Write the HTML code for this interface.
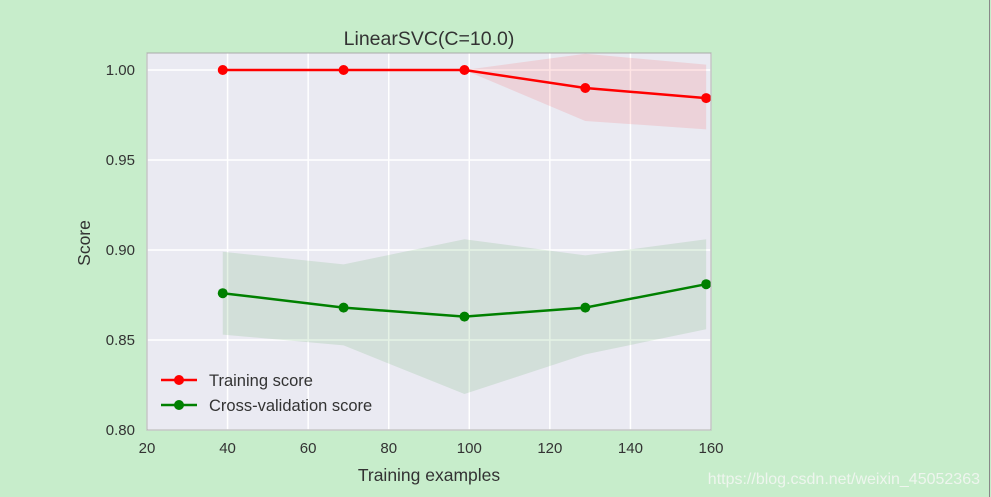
<!DOCTYPE html>
<html><head><meta charset="utf-8"><style>
html,body{margin:0;padding:0;background:#c7edcb;width:991px;height:497px;overflow:hidden;font-family:"Liberation Sans",sans-serif}
</style></head><body>
<svg id="chart" width="991" height="497" xmlns="http://www.w3.org/2000/svg" font-family="Liberation Sans, sans-serif">
<rect x="0" y="0" width="991" height="497" fill="#c7edcb"/>
<line x1="989.5" y1="0" x2="989.5" y2="497" stroke="#888" stroke-width="1"/>
<g id="plot"></g>
<text x="980" y="484" text-anchor="end" font-size="16" fill="#eef5ee">https://blog.csdn.net/weixin_45052363</text>
</svg>
<script>
const xs = [38.8, 68.8, 98.8, 128.8, 158.8];
const trainMean = [1.0, 1.0, 1.0, 0.990, 0.9844];
const trainUpper = [1.0, 1.0, 1.0, 1.009, 1.003];
const trainLower = [1.0, 1.0, 1.0, 0.9717, 0.967];
const cvMean = [0.876, 0.868, 0.863, 0.868, 0.881];
const cvUpper = [0.899, 0.892, 0.906, 0.897, 0.906];
const cvLower = [0.853, 0.847, 0.820, 0.842, 0.856];
const xTicks = [20, 40, 60, 80, 100, 120, 140, 160];
const yTicks = [0.80, 0.85, 0.90, 0.95, 1.00];

const L=147,R=711,T=53,B=430;
const X=v=>L+(v-20)/140*(R-L);
const Y=v=>B-(v-0.8)/0.2*(430-70);
const NS="http://www.w3.org/2000/svg";
const g=document.getElementById('plot');
function mk(tag,attrs,parent){const e=document.createElementNS(NS,tag);for(const k in attrs)e.setAttribute(k,attrs[k]);(parent||g).appendChild(e);return e;}

const bg=mk('rect',{x:L,y:T,width:R-L,height:B-T,fill:'#eaeaf2'});



xTicks.forEach(t=>{
  const l=mk('line',{x1:X(t),x2:X(t),y1:T,y2:B,stroke:'#fff','stroke-width':1.5});
  
  
  const tx=mk('text',{x:X(t),y:B+23,'text-anchor':'middle','font-size':15,fill:'#333'});
  tx.textContent=t;
  
  
});
yTicks.forEach(t=>{
  const l=mk('line',{x1:L,x2:R,y1:Y(t),y2:Y(t),stroke:'#fff','stroke-width':1.5});
  
  
  const tx=mk('text',{x:L-12,y:Y(t)+5,'text-anchor':'end','font-size':15,fill:'#333'});
  tx.textContent=t.toFixed(2);
  
  
});

function band(up,lo,color,name){
  let d='M'+xs.map((x,i)=>X(x)+','+Y(up[i])).join(' L');
  d+=' L'+xs.map((x,i)=>X(x)+','+Y(lo[i])).reverse().join(' L')+' Z';
  const p=mk('path',{d:d,fill:color,'fill-opacity':0.1});
  
  
}
band(trainUpper,trainLower,'#ff0000','training-band');
band(cvUpper,cvLower,'#008000','cv-band');

function series(vals,color,name){
  const pl=mk('polyline',{points:xs.map((x,i)=>X(x)+','+Y(vals[i])).join(' '),fill:'none',stroke:color,'stroke-width':2.5});
  
  
  xs.forEach((x,i)=>{
    const c=mk('circle',{cx:X(x),cy:Y(vals[i]),r:5,fill:color});
    
    
  });
}
series(trainMean,'#ff0000','training-score');
series(cvMean,'#008000','cv-score');

const frame=mk('rect',{x:L,y:T,width:R-L,height:B-T,fill:'none',stroke:'#aaa','stroke-width':1});



[['Training score','#ff0000',380,'legend-training'],['Cross-validation score','#008000',405,'legend-cv']].forEach(([lbl,c,y,n])=>{
  const l=mk('line',{x1:161,x2:197,y1:y,y2:y,stroke:c,'stroke-width':2.5});
  
  
  const m=mk('circle',{cx:179,cy:y,r:5,fill:c});
  
  
  const t=mk('text',{x:209,y:y+6,'font-size':16.5,fill:'#333'});
  t.textContent=lbl;
  
  
});

const title=mk('text',{x:429,y:45,'text-anchor':'middle','font-size':19.5,fill:'#333'});
title.textContent='LinearSVC(C=10.0)';


const xt=mk('text',{x:429,y:481,'text-anchor':'middle','font-size':17.5,fill:'#333'});
xt.textContent='Training examples';


const yt=mk('text',{x:0,y:0,'text-anchor':'middle','font-size':17.5,fill:'#333',transform:'translate(90,243) rotate(-90)'});
yt.textContent='Score';


</script>
</body></html>
